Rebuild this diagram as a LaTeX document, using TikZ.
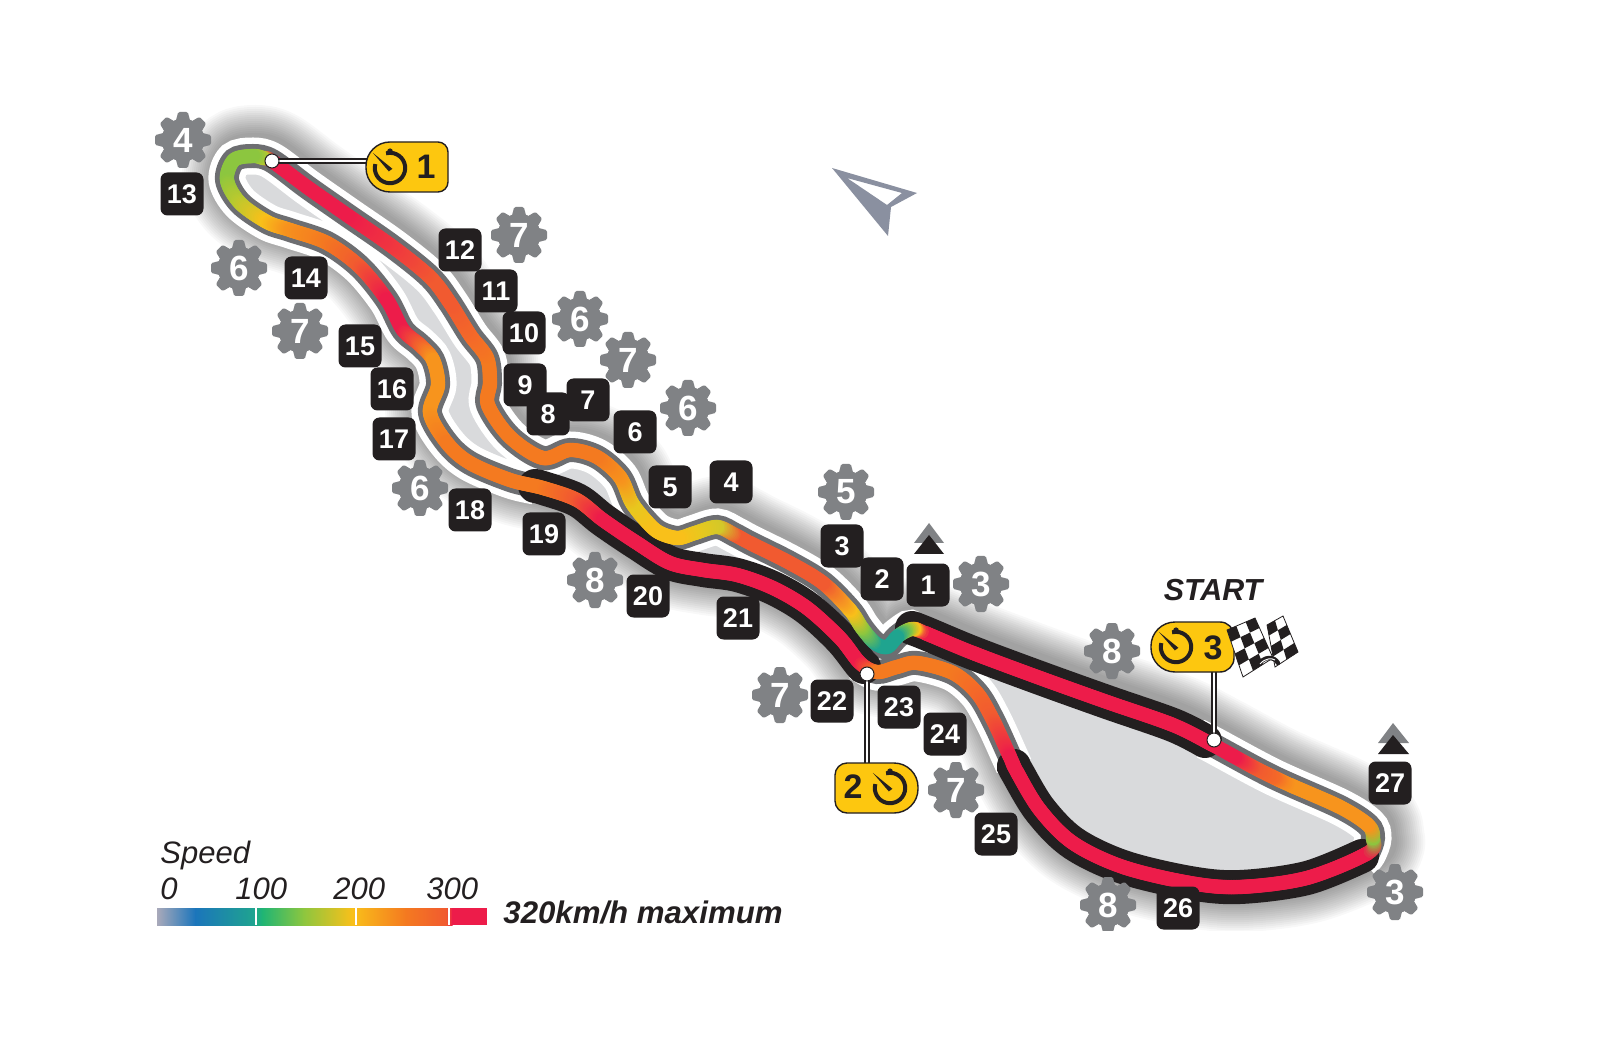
\documentclass[tikz,border=0pt]{standalone}
\usepackage{fontspec}
\setmainfont{Liberation Sans}
\usetikzlibrary{calc}
\definecolor{ink}{HTML}{231F20}
\definecolor{gearc}{HTML}{808285}
\definecolor{outl}{HTML}{6D6E71}
\definecolor{infield}{HTML}{D9DADC}
\definecolor{tred}{HTML}{ED1C4A}
\definecolor{rred}{HTML}{F03A3E}
\definecolor{rorg}{HTML}{F15A30}
\definecolor{morg}{HTML}{F46A28}
\definecolor{torg}{HTML}{F47A20}
\definecolor{amber}{HTML}{F7941D}
\definecolor{yell}{HTML}{F9C01A}
\definecolor{olive}{HTML}{D2C82A}
\definecolor{lemon}{HTML}{E8C81E}
\definecolor{lgreen}{HTML}{B9C92F}
\definecolor{tgreen}{HTML}{8CC63F}
\definecolor{teal}{HTML}{1FA48F}
\definecolor{gold}{HTML}{FDC70F}
\definecolor{arrowc}{HTML}{8A90A0}
\definecolor{barblue}{HTML}{1B75BB}
\definecolor{bargrey}{HTML}{A9A9BA}
\definecolor{bargreen}{HTML}{1FB574}
\tikzset{
  smoothy/.style={smooth,tension=.55},
  badge/.style={fill=ink,text=white,rounded corners=3.5pt,minimum size=21.5pt,inner sep=0pt,font=\fontsize{13.5}{14}\selectfont\bfseries},
  geardigit/.style={text=white,inner sep=0pt,font=\fontsize{17.5}{18}\selectfont\bfseries},
  timernum/.style={text=ink,inner sep=0pt,font=\fontsize{17}{18}\selectfont\bfseries},
  callout/.style={fill=gold,draw=ink,line width=.7pt},
  leaderdark/.style={draw=ink,line width=2.6pt},
  leaderlight/.style={draw=white,line width=1.3pt},
  dotmark/.style={circle,fill=white,draw=ink,line width=.5pt,minimum size=7pt,inner sep=0pt},
  legendtxt/.style={anchor=base west,inner sep=0pt,text=ink,font=\fontsize{15.5}{16}\selectfont\itshape},
  whitew/.style={draw=white,line width=18.5pt,line cap=butt},
  greyw/.style={draw=outl,line width=12pt,line cap=butt},
  blackw/.style={draw=ink,line width=17pt,line cap=round},
}
% colour band: Bezier (same control points as a smooth plot) sampled between two points
\newcommand\bandseg{%
  \pgfmathsetmacro\Px{\bx+.1526*(\cx-\ax)}\pgfmathsetmacro\Py{\by+.1526*(\cy-\ay)}%
  \pgfmathsetmacro\Qx{\cx-.1526*(\dx-\bx)}\pgfmathsetmacro\Qy{\cy-.1526*(\dy-\by)}%
  \pgfmathtruncatemacro\NN{max(1,veclen(\cx-\bx,\cy-\by)/1.6)}%
  \pgfmathtruncatemacro\Nm{\NN-1}%
  \foreach \j in {0,...,\Nm}{%
    \pgfmathsetmacro\tt{\j/\NN}\pgfmathsetmacro\uu{1-\tt}%
    \pgfmathsetmacro\wa{\uu*\uu*\uu}\pgfmathsetmacro\wb{3*\uu*\uu*\tt}%
    \pgfmathsetmacro\wc{3*\uu*\tt*\tt}\pgfmathsetmacro\wd{\tt*\tt*\tt}%
    \pgfmathsetmacro\sx{\wa*\bx+\wb*\Px+\wc*\Qx+\wd*\cx}%
    \pgfmathsetmacro\sy{\wa*\by+\wb*\Py+\wc*\Qy+\wd*\cy}%
    \pgfmathtruncatemacro\pct{100*\tt}%
    \edef\mixc{\ccol!\pct!\bcol}%
    \fill[fill=\mixc] (\sx,\sy) circle (3.6pt);}}
\newcommand\band[1]{%
  \foreach \X/\Y/\C [count=\n] in {#1}{%
    \edef\dx{\X}\edef\dy{\Y}%
    \ifnum\n>3 \bandseg\fi
    \ifnum\n>2 \xdef\ax{\bx}\xdef\ay{\by}\fi
    \ifnum\n>1 \xdef\bx{\cx}\xdef\by{\cy}\xdef\bcol{\ccol}\fi
    \xdef\cx{\X}\xdef\cy{\Y}\xdef\ccol{\C}%
  }}
\newcommand\gear[4]{%
  \begin{scope}[shift={(#2,#3)},x=1pt,y=1pt]
    \fill[gearc] (0,0) circle (10.7);
    \foreach \a in {0,45,...,315}
      \fill[gearc,rotate=\a,rounded corners=.7pt] (-3.6,9.5)--(-2.4,14)--(2.4,14)--(3.6,9.5)--cycle;
  \end{scope}
  \node[geardigit] (#1) at (#2,#3) {#4};}
\newcommand\pill[6]{%
  \draw[callout] ({#1+#5},#2) -- ({#3-#6},#2) .. controls ({#3-.45*#6},#2) and (#3,{#2+.45*#6}) .. (#3,{#2+#6}) -- (#3,{#4-#6}) .. controls (#3,{#4-.45*#6}) and ({#3-.45*#6},#4) .. ({#3-#6},#4) -- ({#1+#5},#4) .. controls ({#1+.45*#5},#4) and (#1,{#4-.45*#5}) .. (#1,{#4-#5}) -- (#1,{#2+#5}) .. controls (#1,{#2+.45*#5}) and ({#1+.45*#5},#2) .. ({#1+#5},#2) -- cycle;}
\newcommand\clock[2]{%
  \begin{scope}[shift={(#1,#2)},x=1pt,y=1pt]
    \draw[ink,line width=2pt] (165:7.6) arc[start angle=165,end angle=465,radius=7.6];
    \fill[ink] (-8.6,7.6) -- (1.2,-.4) -- (-.6,-1.7) -- cycle;
    \fill[ink] (0,8.4) circle (1.4);
  \end{scope}}
\newcommand\chk[2]{% corners via coordinates fa fb fc fd
  \fill[white,draw=ink,line width=.4pt] (fa)--(fb)--(fc)--(fd)--cycle;
  \foreach \i in {1,...,#1}{\foreach \j in {1,...,#2}{%
    \pgfmathtruncatemacro\parity{mod(\i+\j,2)}%
    \ifnum\parity=0
      \pgfmathsetmacro\ua{(\i-1)/#1}\pgfmathsetmacro\ub{\i/#1}%
      \pgfmathsetmacro\va{(\j-1)/#2}\pgfmathsetmacro\vb{\j/#2}%
      \fill[ink] ($($(fa)!\ua!(fb)$)!\va!($(fd)!\ua!(fc)$)$)
        -- ($($(fa)!\ub!(fb)$)!\va!($(fd)!\ub!(fc)$)$)
        -- ($($(fa)!\ub!(fb)$)!\vb!($(fd)!\ub!(fc)$)$)
        -- ($($(fa)!\ua!(fb)$)!\vb!($(fd)!\ua!(fc)$)$) -- cycle;
    \fi}}}
\newcommand\lap{plot[smooth cycle,tension=.55] coordinates {(1213,745)(1173,725)(1107,702)(1040,678)(973,653)(925,633)(908,629)(897,637)(887,647)(875,643)(862,628)(850,610)(823,583)(790,563)(750,543)(735,535)(717,527)(695,533)(678,538)(660,533)(648,523)(632,503)(620,477)(597,457)(570,450)(543,458)(510,437)(488,405)(490,383)(487,358)(470,335)(450,303)(430,277)(393,247)(347,215)(307,187)(272,161)(253,156)(234,160)(227,180)(240,203)(267,222)(290,230)(327,243)(360,267)(387,300)(403,330)(420,345)(433,360)(438,385)(430,413)(447,443)(470,463)(510,480)(543,488)(577,500)(603,520)(637,543)(670,563)(703,570)(737,575)(773,588)(807,608)(840,638)(860,663)(877,672)(897,667)(917,663)(953,673)(977,693)(993,720)(1010,757)(1017,772)(1040,810)(1073,843)(1123,867)(1190,883)(1240,887)(1307,878)(1368,853)(1373,838)(1368,825)(1340,807)(1273,777)}}
\newcommand\secA{plot[smoothy] coordinates {(1205,741)(1213,745)(1273,777)(1340,807)(1368,825)(1373,838)(1368,853)(1362,860)}}
\newcommand\secB{plot[smoothy] coordinates {(912,629)(908,629)(897,637)(887,647)(875,643)(862,628)(850,610)(823,583)(790,563)(750,543)(735,535)(717,527)(695,533)(678,538)(660,533)(648,523)(632,503)(620,477)(597,457)(570,450)(543,458)(510,437)(488,405)(490,383)(487,358)(470,335)(450,303)(430,277)(393,247)(347,215)(307,187)(272,161)(253,156)(234,160)(227,180)(240,203)(267,222)(290,230)(327,243)(360,267)(387,300)(403,330)(420,345)(433,360)(438,385)(430,413)(447,443)(470,463)(510,480)(535,486)}}
\newcommand\secC{plot[smoothy] coordinates {(860,663)(877,672)(897,667)(917,663)(953,673)(977,693)(993,720)(1010,757)(1014,766)}}
\begin{document}
\begin{tikzpicture}[x=.5pt,y=-.5pt]
\useasboundingbox (0,0) rectangle (1600,1058);
\fill[white] (0,0) rectangle (1600,1058);
% soft shadow
\begin{scope}[shift={(3,-3)}]
\foreach \w in {48,46,44,42,40,38,36,34,32,30,28,26,24,22,20}
  \draw[black,opacity=.028,line width=\w pt,line join=round] \lap;
\end{scope}
% infield
\fill[infield] \lap;
% outlines
\draw[whitew] \secA;
\draw[whitew] \secB;
\draw[whitew] \secC;
\draw[greyw] \secA;
\draw[greyw] \secB;
\draw[greyw] \secC;
% black kerbs
\draw[blackw] plot[smoothy] coordinates {(1205,741)(1173,725)(1107,702)(1040,678)(973,653)(925,633)(912,628)};
\draw[blackw] plot[smoothy] coordinates {(535,486)(543,488)(577,500)(603,520)(637,543)(670,563)(703,570)(737,575)(773,588)(807,608)(840,638)(860,663)(864,667)};
\draw[blackw] plot[smoothy] coordinates {(1014,766)(1017,772)(1040,810)(1073,843)(1123,867)(1190,883)(1240,887)(1307,878)(1362,856)};
% colour band
\band{1232/755/tred,1213/745/tred,1173/725/tred,1107/702/tred,1040/678/tred,973/653/tred,925/633/tred,914/629/yell,906/631/tgreen,897/637/teal,887/647/teal,875/643/teal,862/628/tgreen,850/610/yell,823/583/rorg,790/563/rorg,750/543/rorg,735/535/rorg,717/527/olive,695/533/lemon,678/538/yell,660/533/yell,648/523/yell,632/503/lemon,620/477/amber,597/457/torg,570/450/torg,543/458/torg,510/437/torg,488/405/torg,490/383/torg,487/358/torg,470/335/morg,450/303/rorg,430/277/rorg,393/247/rred,347/215/tred,307/187/tred,272/161/tred,263/158/lgreen,253/156/tgreen,234/160/tgreen,227/180/tgreen,240/203/lgreen,267/222/yell,290/230/amber,327/243/torg,360/267/rorg,387/300/tred,403/330/tred,420/345/rorg,433/360/amber,438/385/amber,430/413/amber,447/443/torg,470/463/torg,510/480/torg,543/488/torg,577/500/rorg,603/520/tred,637/543/tred,670/563/tred,703/570/tred,737/575/tred,773/588/tred,807/608/tred,840/638/tred,860/663/tred,877/672/torg,897/667/torg,917/663/torg,953/673/torg,977/693/morg,993/720/rorg,1010/757/tred,1017/772/tred,1040/810/tred,1073/843/tred,1123/867/tred,1190/883/tred,1240/887/tred,1307/878/tred,1368/853/tred,1373/838/tgreen,1368/825/amber,1340/807/amber,1290/785/amber,1273/777/morg,1255/768/rorg,1235/757/tred,1213/745/tred,1173/725/tred}
% callouts
\coordinate (d1) at (272,161);
\coordinate (d2) at (867,674);
\coordinate (d3) at (1214,740);
\coordinate (c1) at (370,161);
\coordinate (c2) at (867,765);
\coordinate (c3) at (1214,670);
\draw[leaderdark] (d1)--(c1); \draw[leaderlight] (d1)--(c1);
\draw[leaderdark] (d2)--(c2); \draw[leaderlight] (d2)--(c2);
\draw[leaderdark] (d3)--(c3); \draw[leaderlight] (d3)--(c3);
\node[dotmark] (dot1) at (d1) {};
\node[dotmark] (dot2) at (d2) {};
\node[dotmark] (dot3) at (d3) {};
\pill{366}{142}{448}{192}{24}{10}
\clock{390}{168}
\node[timernum] (t1) at (426,167) {1};
\pill{835}{763}{918}{813}{12}{24}
\clock{890}{788}
\node[timernum] (t2) at (853,787) {2};
\pill{1151}{622}{1234}{672}{24}{14}
\clock{1176}{647}
\node[timernum] (t3) at (1213,648) {3};
% flags
\coordinate (fa) at (1267,625); \coordinate (fb) at (1283,616); \coordinate (fc) at (1298,652); \coordinate (fd) at (1275,667);
\chk{2}{4}
\coordinate (fa) at (1227,630); \coordinate (fb) at (1255,618); \coordinate (fc) at (1273,658); \coordinate (fd) at (1243,677);
\chk{3}{4}
\draw[ink,line width=2.2pt,line cap=round] (1258,665) .. controls (1264,656) and (1274,656) .. (1278,663);
\draw[white,line width=.5pt] (1260,664) .. controls (1265,658) and (1272,658) .. (1275,660);
\node[inner sep=0pt,text=ink,font=\fontsize{15.2}{16}\selectfont\bfseries\itshape] (startlab) at (1213,590) {START};
% direction arrow
\fill[arrowc,even odd rule] (832,168)--(917,193)--(891,207)--(888,236)--cycle (847,178)--(902,193)--(887,205)--cycle;
% turn-in triangles
\fill[gearc] (929,523)--(944,543)--(914,543)--cycle;
\fill[ink] (929,535)--(944,554)--(914,554)--cycle;
\fill[gearc] (1393,723)--(1409,743)--(1378,743)--cycle;
\fill[ink] (1393,735)--(1409,754)--(1378,754)--cycle;
% gears
\gear{ga}{183}{140}{4}
\gear{gb}{239}{268}{6}
\gear{gc}{300}{331}{7}
\gear{gd}{519}{235}{7}
\gear{ge}{580}{319}{6}
\gear{gf}{628}{360}{7}
\gear{gg}{688}{408}{6}
\gear{gh}{420}{488}{6}
\gear{gi}{595}{580}{8}
\gear{gj}{846}{492}{5}
\gear{gk}{981}{584}{3}
\gear{gl}{780}{695}{7}
\gear{gm}{956}{790}{7}
\gear{gn}{1112}{651}{8}
\gear{go}{1108}{905}{8}
\gear{gp}{1395}{892}{3}
% badges
\node[badge] (b13) at (182,194) {13};
\node[badge] (b14) at (306,278) {14};
\node[badge] (b15) at (360,346) {15};
\node[badge] (b16) at (392,389) {16};
\node[badge] (b17) at (394,439) {17};
\node[badge] (b18) at (470,510) {18};
\node[badge] (b19) at (544,534) {19};
\node[badge] (b20) at (648,596) {20};
\node[badge] (b21) at (738,618) {21};
\node[badge] (b12) at (460,250) {12};
\node[badge] (b11) at (496,291) {11};
\node[badge] (b10) at (524,333) {10};
\node[badge] (b9) at (525,385) {9};
\node[badge] (b8) at (548,414) {8};
\node[badge] (b7) at (588,400) {7};
\node[badge] (b6) at (635,432) {6};
\node[badge] (b5) at (670,487) {5};
\node[badge] (b4) at (731,482) {4};
\node[badge] (b3) at (842,546) {3};
\node[badge] (b2) at (882,579) {2};
\node[badge] (b1) at (928,585) {1};
\node[badge] (b22) at (832,701) {22};
\node[badge] (b23) at (899,707) {23};
\node[badge] (b24) at (945,734) {24};
\node[badge] (b25) at (996,834) {25};
\node[badge] (b26) at (1178,908) {26};
\node[badge] (b27) at (1390,783) {27};
% crop of the lower edge
\fill[white] (0,931) rectangle (1600,1058);
% legend
\node[legendtxt] (speed) at (160,863) {Speed};
\node[legendtxt] (s0) at (160,899) {0};
\node[legendtxt] (s100) at (235,899) {100};
\node[legendtxt] (s200) at (333,899) {200};
\node[legendtxt] (s300) at (426,899) {300};
\shade[left color=bargrey,right color=barblue] (157,908) rectangle (195.5,925);
\shade[left color=barblue,right color=teal] (195,908) rectangle (254.5,925);
\shade[left color=teal,right color=bargreen] (254,908) rectangle (262.5,925);
\shade[left color=bargreen,right color=tgreen] (262,908) rectangle (303.5,925);
\shade[left color=tgreen,right color=yell] (303,908) rectangle (352.5,925);
\shade[left color=yell,right color=torg] (352,908) rectangle (405.5,925);
\shade[left color=torg,right color=rorg] (405,908) rectangle (446.5,925);
\shade[left color=rorg,right color=tred] (446,908) rectangle (452.5,925);
\fill[tred] (452,908) rectangle (487,925);
\foreach \t in {256,356,449} \draw[white,line width=.9pt] (\t,908) -- (\t,925);
\node[legendtxt,font=\fontsize{15.6}{16}\selectfont\bfseries\itshape] (maxi) at (503,923) {320km/h maximum};
\end{tikzpicture}
\end{document}
